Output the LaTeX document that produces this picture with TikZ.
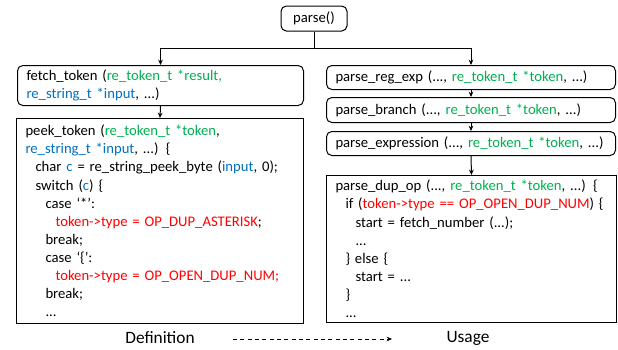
\documentclass[tikz,border=0pt]{standalone}
\usepackage{fontspec}
\setmainfont{Carlito}
\usetikzlibrary{arrows.meta}
\definecolor{cgreen}{HTML}{00B050}
\definecolor{cblue}{HTML}{0070C0}
\definecolor{cred}{HTML}{FF0000}
\newcommand{\G}[1]{\textcolor{cgreen}{#1}}
\newcommand{\B}[1]{\textcolor{cblue}{#1}}
\newcommand{\R}[1]{\textcolor{cred}{#1}}
\newcommand{\ia}{\hspace*{7.5pt}}
\begin{document}
\begin{tikzpicture}[x=0.75pt,y=-0.75pt,
  every node/.style={font=\fontsize{11pt}{13.6pt}\selectfont},
  rbox/.style={draw,line width=0.75pt,rounded corners=4pt,anchor=north west,inner xsep=6.75pt,inner ysep=0pt},
  sbox/.style={draw,line width=0.75pt,anchor=north west,inner xsep=6.75pt,inner ysep=0pt},
  conn/.style={line width=0.75pt,-{Stealth[length=4pt,width=3.5pt]}},
  lbl/.style={font=\fontsize{13pt}{15pt}\selectfont}]
\useasboundingbox (0,0) rectangle (618,350);
\node[draw,line width=0.75pt,rounded corners=4pt,minimum width=49.5pt,minimum height=18.75pt,inner sep=0pt] (parse) at (314,18.5) {parse()};
\node[rbox,minimum width=214.5pt,minimum height=30pt,text width=201pt,align=left] (fetch) at (17,65)
  {fetch\_token (\G{re\_token\_t *result,}\\\B{re\_string\_t *input}, ...)};
\node[sbox,minimum width=215.25pt,minimum height=153.75pt,text width=201.75pt,align=left] (peek) at (16,118)
  {peek\_token (\G{re\_token\_t *token},\\
   \B{re\_string\_t *input}, ...) \{\\
   \ia char \B{c} = re\_string\_peek\_byte (\B{input}, 0);\\
   \ia switch (\B{c}) \{\\
   \ia\ia case ‘*’:\\
   \ia\ia\ia \R{token->type = OP\_DUP\_ASTERISK};\\
   \ia\ia break;\\
   \ia\ia case ‘\{’:\\
   \ia\ia\ia \R{token->type = OP\_OPEN\_DUP\_NUM;}\\
   \ia\ia break;\\
   \ia\ia ...};
\node[rbox,minimum width=216.75pt,minimum height=18pt,text width=203.25pt,align=left] (regexp) at (326,65)
  {parse\_reg\_exp (..., \G{re\_token\_t *token}, ...)};
\node[rbox,minimum width=216.75pt,minimum height=18.75pt,text width=203.25pt,align=left] (branch) at (326,97)
  {parse\_branch (..., \G{re\_token\_t *token}, ...)};
\node[rbox,minimum width=216.75pt,minimum height=18pt,text width=203.25pt,align=left] (expr) at (326,131)
  {parse\_expression (..., \G{re\_token\_t *token}, ...)};
\node[sbox,minimum width=217.5pt,minimum height=110.25pt,text width=204pt,align=left] (dup) at (326,175)
  {parse\_dup\_op (..., \G{re\_token\_t *token}, ...) \{\\
   \ia if (\R{token->type == OP\_OPEN\_DUP\_NUM}) \{\\
   \ia\ia start = fetch\_number (...);\\
   \ia\ia ...\\
   \ia \} else \{\\
   \ia\ia start = ...\\
   \ia \}\\
   \ia ...};
\coordinate (j) at (314,48);
\draw[line width=0.75pt] (parse.south) -- (j);
\draw[conn] (j) -| (fetch.north);
\draw[conn] (j) -| (regexp.north);
\draw[conn] (fetch.south) -- (peek.north);
\draw[conn] (regexp.south) -- (branch.north);
\draw[conn] (branch.south) -- (expr.north);
\draw[conn] (expr.south) -- (dup.north);
\node[lbl] (def) at (160,338) {Definition};
\node[lbl] (use) at (468,338) {Usage};
\coordinate (ds) at (233,339);
\coordinate (de) at (392,339);
\draw[line width=0.6pt,dash pattern=on 3pt off 2.5pt,-{Stealth[length=4pt,width=3.5pt]}] (ds) -- (de);
\end{tikzpicture}
\end{document}
